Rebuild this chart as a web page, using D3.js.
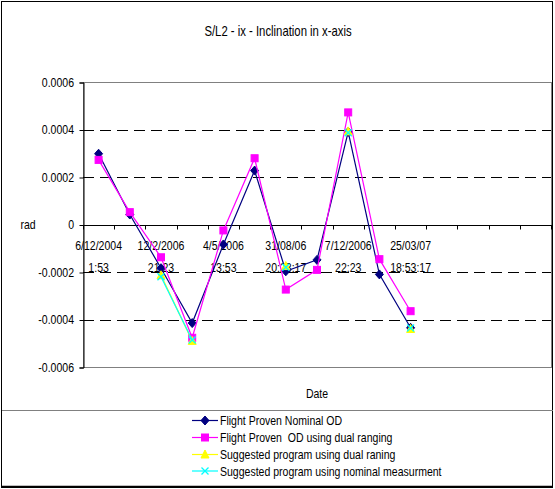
<!DOCTYPE html>
<html>
<head>
<meta charset="utf-8">
<script src="https://cdn.jsdelivr.net/npm/d3@7/dist/d3.min.js"></script>
<style>
  html, body { margin: 0; padding: 0; background: #fff; }
  svg { display: block; }
  text { font-family: "Liberation Sans", Arial, sans-serif; fill: #000; white-space: pre; }
</style>
</head>
<body>
<svg id="chart" width="555" height="489"></svg>
<script>
// Category axis: 15 slots, labelled every other slot (two text lines each)
const dateLabels = [
  ["6/12/2004", "1:53"], null,
  ["12/2/2006", "21:23"], null,
  ["4/5/2006", "13:53"], null,
  ["31/08/06", "20:23:17"], null,
  ["7/12/2006", "22:23"], null,
  ["25/03/07", "18:53:17"], null,
  null, null, null
];
const yTicks = [0.0006, 0.0004, 0.0002, 0, -0.0002, -0.0004, -0.0006];
const yGrid = [0.0004, 0.0002, -0.0002, -0.0004];

const seriesNames = [
  "Flight Proven Nominal OD",
  "Flight Proven  OD using dual ranging",
  "Suggested program using dual raning",
  "Suggested program using nominal measurment"
];
const nominalOD = [0.000298, 0.000042, -0.000184, -0.000415, -0.000084, 0.000227, -0.000197, -0.000149, 0.00039, -0.00021, -0.000435];
const dualRangingOD = [0.000272, 0.000052, -0.000138, -0.000477, -0.000025, 0.000279, -0.000274, -0.000191, 0.000472, -0.000146, -0.000365];
const suggestedDual = [null, null, -0.000214, -0.00049, null, null, -0.000175, null, 0.000392, null, -0.00044];
const suggestedNominal = [null, null, -0.00022, -0.000486, null, null, -0.00018, null, 0.000386, null, -0.000436];

const colors = ["#000080", "#ff00ff", "#ffff00", "#00ffff"];
const markerTypes = ["diamond", "square", "triangle", "x"];
const seriesValues = [nominalOD, dualRangingOD, suggestedDual, suggestedNominal];

const svg = d3.select("#chart");
const plot = { left: 83, right: 551, top: 82, bottom: 367 };
const NARROW = 0.81;

// condensed text: drawn in a horizontally squeezed group anchored at (px, py)
function narrowText(parent, px, py, str, anchor, size) {
  return parent.append("g")
    .attr("transform", `translate(${px},${py}) scale(${NARROW},1)`)
    .append("text")
    .attr("text-anchor", anchor || "start")
    .attr("font-size", size || 13)
    .text(str);
}

const x = d3.scaleBand()
  .domain(d3.range(dateLabels.length))
  .range([plot.left, plot.right])
  .paddingInner(0).paddingOuter(0);
const y = d3.scaleLinear().domain([-0.0006, 0.0006]).range([plot.bottom, plot.top]);
const cx = i => x(i) + x.bandwidth() / 2;

// outer chart frame
svg.append("rect")
  .attr("x", 1.5).attr("y", 1.5).attr("width", 551).attr("height", 486)
  .attr("fill", "none").attr("stroke", "#000").attr("stroke-width", 1);

// title
narrowText(svg, 278, 36, "S/L2 - ix - Inclination in x-axis", "middle", 14);

// plot area border
svg.append("rect")
  .attr("x", plot.left + 0.5).attr("y", plot.top + 0.5)
  .attr("width", plot.right - plot.left).attr("height", plot.bottom - plot.top)
  .attr("fill", "#fff").attr("stroke", "#808080").attr("stroke-width", 1);

// dashed gridlines
svg.append("g").selectAll("line").data(yGrid).join("line")
  .attr("x1", plot.left).attr("x2", plot.right)
  .attr("y1", d => Math.round(y(d)) + 0.5).attr("y2", d => Math.round(y(d)) + 0.5)
  .attr("stroke", "#000").attr("stroke-width", 1)
  .attr("stroke-dasharray", "11,6");

// value axis: line and ticks from d3.axisLeft, labels drawn condensed
const yAxis = d3.axisLeft(y).tickValues(yTicks).tickSize(4).tickFormat("");
const gy = svg.append("g").attr("transform", `translate(${plot.left + 0.5},0.5)`).call(yAxis);
gy.select(".domain").attr("stroke", "#000");
gy.selectAll(".tick line").attr("stroke", "#000");
const fmt = d => d === 0 ? "0" : d3.format(".4f")(d).replace("\u2212", "-");
yTicks.forEach(t => narrowText(svg, 74, y(t) + 4.5, fmt(t), "end", 13));

// category axis along zero line with boundary ticks
const zeroY = Math.round(y(0)) + 0.5;
svg.append("line")
  .attr("x1", plot.left).attr("x2", plot.right + 1)
  .attr("y1", zeroY).attr("y2", zeroY)
  .attr("stroke", "#000");
svg.append("g").selectAll("line").data(d3.range(dateLabels.length + 1)).join("line")
  .attr("x1", i => Math.round(plot.left + i * x.step()) + 0.5)
  .attr("x2", i => Math.round(plot.left + i * x.step()) + 0.5)
  .attr("y1", zeroY).attr("y2", zeroY + 4)
  .attr("stroke", "#000");

const catG = svg.append("g");
dateLabels.forEach((d, i) => {
  if (!d) return;
  narrowText(catG, cx(i), 250, d[0], "middle", 13);
  narrowText(catG, cx(i), 272, d[1], "middle", 13);
});

// axis titles
narrowText(svg, 28, 229, "rad", "middle", 13);
narrowText(svg, (plot.left + plot.right) / 2, 398, "Date", "middle", 13);

// marker drawing
function drawMarker(g, type, color, px, py) {
  if (type === "diamond") {
    g.append("path").attr("d", `M${px},${py - 4.5}L${px + 4},${py}L${px},${py + 4.5}L${px - 4},${py}Z`)
      .attr("fill", color).attr("stroke", color);
  } else if (type === "square") {
    g.append("rect").attr("x", px - 3.5).attr("y", py - 3.5).attr("width", 7).attr("height", 7)
      .attr("fill", color).attr("stroke", color);
  } else if (type === "triangle") {
    g.append("path").attr("d", `M${px},${py - 4.5}L${px + 4},${py + 3.5}L${px - 4},${py + 3.5}Z`)
      .attr("fill", color).attr("stroke", color);
  } else {
    g.append("path").attr("d", `M${px - 3.5},${py - 3.5}L${px + 3.5},${py + 3.5}M${px + 3.5},${py - 3.5}L${px - 3.5},${py + 3.5}`)
      .attr("fill", "none").attr("stroke", color).attr("stroke-width", 1.3);
  }
}

// series lines and markers
const line = d3.line()
  .defined(d => d.v !== null)
  .x(d => cx(d.i)).y(d => y(d.v));

seriesValues.forEach((vals, s) => {
  const pts = vals.map((v, i) => ({ v, i }));
  const g = svg.append("g");
  g.append("path").datum(pts).attr("d", line)
    .attr("fill", "none").attr("stroke", colors[s]).attr("stroke-width", 1.2);
  pts.filter(p => p.v !== null).forEach(p => drawMarker(g, markerTypes[s], colors[s], cx(p.i), y(p.v)));
});

// legend
const legend = svg.append("g");
legend.append("line").attr("x1", 2).attr("x2", 553).attr("y1", 410.5).attr("y2", 410.5).attr("stroke", "#808080");
legend.append("line").attr("x1", 2).attr("x2", 553).attr("y1", 486.5).attr("y2", 486.5).attr("stroke", "#000").attr("stroke-width", 1.5);
const rowY = [420.5, 437.5, 454.5, 471];
seriesNames.forEach((name, s) => {
  const ly = rowY[s];
  legend.append("line").attr("x1", 192).attr("x2", 218).attr("y1", ly).attr("y2", ly)
    .attr("stroke", colors[s]).attr("stroke-width", 1.2);
  drawMarker(legend, markerTypes[s], colors[s], 205, ly);
  narrowText(legend, 220, ly + 4.5, name, "start", 13);
});
</script>
</body>
</html>
